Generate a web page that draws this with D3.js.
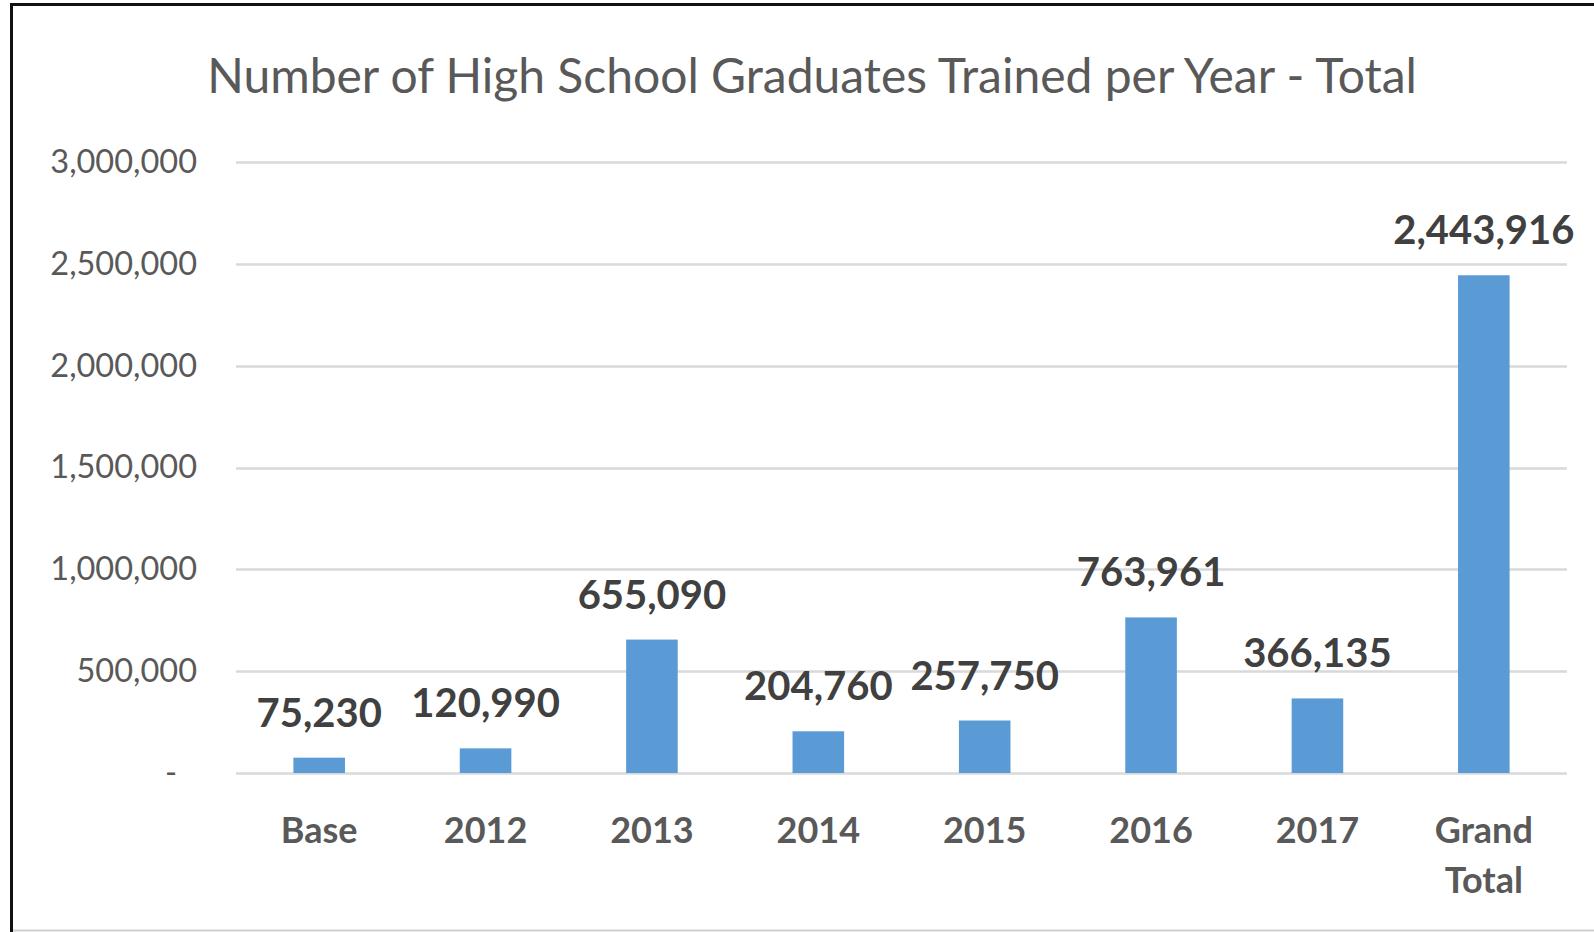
<!DOCTYPE html>
<html>
<head>
<meta charset="utf-8">
<script src="https://cdn.jsdelivr.net/npm/d3@7"></script>
<style>
  body { margin: 0; background: #fff; }
  svg { display: block; font-family: Lato, "Open Sans", sans-serif; }
</style>
</head>
<body>
<svg id="chart" width="1594" height="932"></svg>
<script>
// データ
var categories = ["Base", "2012", "2013", "2014", "2015", "2016", "2017", "Grand Total"];
var graduates = [75230, 120990, 655090, 204760, 257750, 763961, 366135, 2443916];
var yTicks = [0, 500000, 1000000, 1500000, 2000000, 2500000, 3000000];
var chartTitle = "Number of High School Graduates Trained per Year - Total";

var svg = d3.select("#chart");

// 枠線 (左・上・下)
svg.append("line").attr("x1", 11.5).attr("x2", 11.5).attr("y1", 3).attr("y2", 932)
  .attr("stroke", "#111").attr("stroke-width", 3);
svg.append("line").attr("x1", 10).attr("x2", 1594).attr("y1", 4.5).attr("y2", 4.5)
  .attr("stroke", "#111").attr("stroke-width", 3);
svg.append("line").attr("x1", 13).attr("x2", 1594).attr("y1", 930.5).attr("y2", 930.5)
  .attr("stroke", "#d0d0d0").attr("stroke-width", 2);

var plotLeft = 236, plotRight = 1567, plotTop = 162, plotBottom = 773;

var x = d3.scaleBand()
  .domain(categories)
  .range([plotLeft, plotRight])
  .paddingInner(0.69)
  .paddingOuter(0.345);

var y = d3.scaleLinear()
  .domain([0, 3000000])
  .range([plotBottom, plotTop]);

// タイトル
svg.append("text")
  .attr("x", 812)
  .attr("y", 93)
  .attr("text-anchor", "middle")
  .attr("font-size", 48)
  .attr("fill", "#595959")
  .text(chartTitle);

// 目盛線
svg.append("g")
  .selectAll("line")
  .data(yTicks)
  .enter()
  .append("line")
  .attr("x1", plotLeft)
  .attr("x2", plotRight)
  .attr("y1", function(d){ return Math.round(y(d)) + 0.5; })
  .attr("y2", function(d){ return Math.round(y(d)) + 0.5; })
  .attr("stroke", "#d9d9d9")
  .attr("stroke-width", 2.5);

// 縦軸ラベル
var yAxis = svg.append("g")
  .attr("transform", "translate(197,0)")
  .call(d3.axisLeft(y)
    .tickValues(yTicks)
    .tickSize(0)
    .tickPadding(0)
    .tickFormat(function(d){ return d === 0 ? "-" : d3.format(",")(d); }));
yAxis.select(".domain").remove();
yAxis.selectAll("text")
  .attr("font-size", 32.5)
  .attr("font-family", "Lato, sans-serif")
  .attr("fill", "#595959")
  .attr("dx", function(d){ return d === 0 ? -20 : 0; });

// 棒
svg.append("g")
  .selectAll("rect")
  .data(graduates)
  .enter()
  .append("rect")
  .attr("x", function(d, i){ return x(categories[i]); })
  .attr("y", function(d){ return y(d); })
  .attr("width", x.bandwidth())
  .attr("height", function(d){ return y(0) - y(d); })
  .attr("fill", "#5b9bd5");

// データラベル
svg.append("g")
  .selectAll("text")
  .data(graduates)
  .enter()
  .append("text")
  .attr("x", function(d, i){ return x(categories[i]) + x.bandwidth() / 2; })
  .attr("y", function(d){ return y(d) - 31; })
  .attr("text-anchor", "middle")
  .attr("font-size", 40)
  .attr("font-weight", "bold")
  .attr("fill", "#404040")
  .text(function(d){ return d3.format(",")(d); });

// 横軸ラベル
var xLabels = svg.append("g")
  .selectAll("text")
  .data(categories)
  .enter()
  .append("text")
  .attr("x", function(d){ return x(d) + x.bandwidth() / 2; })
  .attr("y", 843)
  .attr("text-anchor", "middle")
  .attr("font-size", 36)
  .attr("font-weight", "bold")
  .attr("fill", "#595959");

xLabels.each(function(d){
  var words = d.split(" ");
  var t = d3.select(this);
  words.forEach(function(w, i){
    t.append("tspan")
      .attr("x", t.attr("x"))
      .attr("dy", i === 0 ? 0 : 50)
      .text(w);
  });
});
</script>
</body>
</html>
